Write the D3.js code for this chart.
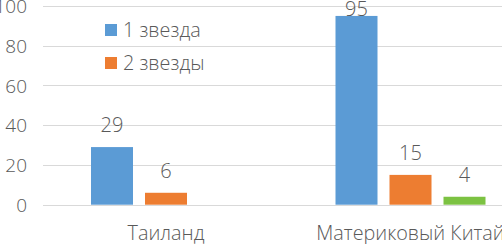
<!DOCTYPE html>
<html><head><meta charset="utf-8">
<script src="https://cdn.jsdelivr.net/npm/d3@7"></script>
<style>
html,body{margin:0;padding:0;background:#fff;overflow:hidden;}
text{font-family:"Open Sans","Segoe UI",sans-serif;font-weight:300;fill:#595959;}
</style></head>
<body>
<svg id="c" width="502" height="244"></svg>
<script>
const categories = ["Таиланд", "Материковый Китай"];
const seriesNames = ["1 звезда", "2 звезды", "3 звезды"];
const series1 = [29, 95];
const series2 = [6, 15];
const series3 = [null, 4];
const legendLabels = ["1 звезда", "2 звезды"];
const yTicks = [0, 20, 40, 60, 80, 100];
const colors = ["#5B9BD5", "#ED7D31", "#7CC242"];

const svg = d3.select("#c");
const values = [series1, series2, series3];

const y = d3.scaleLinear().domain([0, 100]).range([204.7, 6]);
const x0 = d3.scaleBand().domain(categories).range([43.75, 532.75])
  .paddingInner(0.3865).paddingOuter(0.3865 / 2);
const x1 = d3.scaleBand().domain(d3.range(seriesNames.length)).range([0, x0.bandwidth()])
  .paddingInner(0.2222).paddingOuter(0);

// gridlines
svg.append("g").selectAll("line").data(yTicks).join("line")
  .attr("x1", 43).attr("x2", 502)
  .attr("y1", d => Math.round(y(d)) + 0.5).attr("y2", d => Math.round(y(d)) + 0.5)
  .attr("stroke", "#d9d9d9").attr("stroke-width", 1);

// y axis labels
const yAxis = d3.axisLeft(y).tickValues(yTicks).tickSize(0).tickPadding(0);
const ga = svg.append("g").attr("transform", "translate(27,0)").call(yAxis);
ga.select(".domain").remove();
ga.selectAll("text").style("font-size", "19px").attr("fill", "#595959")
  .style("font-family", "'Open Sans',sans-serif").style("font-weight", "300").attr("dy", "0.35em");

// bars
const groups = svg.append("g").selectAll("g").data(categories).join("g")
  .attr("transform", d => `translate(${x0(d)},0)`);
groups.each(function(cat, ci) {
  const g = d3.select(this);
  values.forEach((arr, si) => {
    const v = arr[ci];
    if (v == null) return;
    g.append("rect")
      .attr("x", x1(si)).attr("width", x1.bandwidth())
      .attr("y", y(v)).attr("height", y(0) - y(v))
      .attr("fill", colors[si]);
    g.append("text")
      .attr("x", x1(si) + x1.bandwidth() / 2)
      .attr("y", Math.max(y(v) - 15, 16))
      .attr("text-anchor", "middle")
      .style("font-size", "20px")
      .text(v);
  });
});

// category labels
svg.append("g").selectAll("text").data(categories).join("text")
  .attr("x", d => x0(d) + x0.bandwidth() / 2)
  .attr("y", 240)
  .attr("text-anchor", "middle")
  .style("font-size", "19.8px")
  .text(d => d);

// legend
const lg = svg.append("g").selectAll("g").data(legendLabels).join("g")
  .attr("transform", (d, i) => `translate(105,${24 + i * 33})`);
lg.append("rect").attr("width", 12).attr("height", 12).attr("fill", (d, i) => colors[i]);
lg.append("text").attr("x", 18).attr("y", 13).style("font-size", "19.8px").text(d => d);
</script>
</body></html>
